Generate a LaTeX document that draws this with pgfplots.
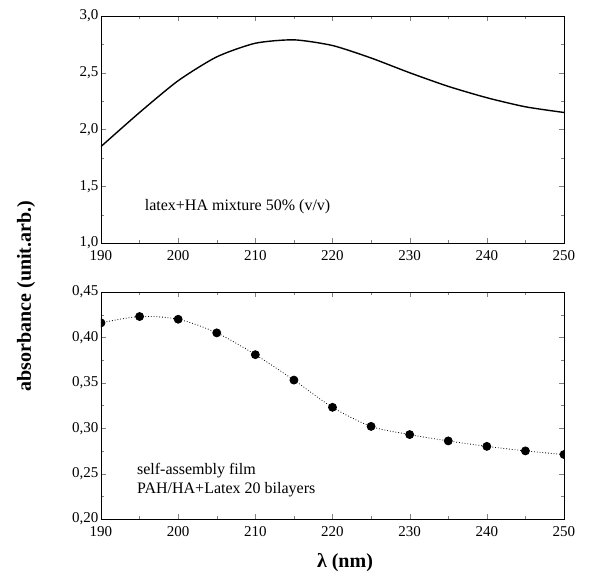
\documentclass[border=0pt]{standalone}
\usepackage{fontspec}
\setmainfont{Liberation Serif}
\usepackage{pgfplots}
\pgfplotsset{compat=1.18}

\pgfplotsset{
  panel/.style={
    scale only axis,
    width=463pt, height=227pt,
    xmin=190, xmax=250,
    xtick={190,200,...,250},
    minor x tick num=1,
    minor y tick num=1,
    major tick length=5pt,
    minor tick length=3pt,
    tick align=inside,
    tick pos=both,
    ticklabel pos=left,
    every axis plot/.append style={black},
    tick label style={font=\fontsize{15}{17}\selectfont},
    /pgf/number format/assume math mode=true,
    /pgf/number format/use comma,
    /pgf/number format/fixed,
    /pgf/number format/fixed zerofill,
    line width=0.8pt,
    axis line style={line width=0.9pt},
    clip marker paths=true,
    xticklabel style={/pgf/number format/1000 sep=, /pgf/number format/precision=0, yshift=-4pt},
    yticklabel style={xshift=1pt},
  }
}

\begin{document}
\begin{tikzpicture}
\useasboundingbox (-101pt,-331pt) rectangle (507pt,243pt);

\begin{axis}[panel,
  at={(0pt,0pt)}, anchor=south west,
  ymin=1, ymax=3,
  ytick={1,1.5,...,3},
  yticklabel style={/pgf/number format/precision=1},
]
\addplot[line width=1.4pt, smooth, tension=0.4] coordinates {
  (190,1.85) (195,2.15) (200,2.43) (205,2.64) (210,2.76) (215,2.79)
  (220,2.74) (225,2.63) (230,2.50) (235,2.38) (240,2.28) (245,2.20) (250,2.15)
};
\node[anchor=west, font=\fontsize{16}{18}\selectfont] at (axis cs:195.2,1.32) {latex+HA mixture 50\% (v/v)};
\end{axis}

\begin{axis}[panel,
  at={(0pt,-276pt)}, anchor=south west,
  ymin=0.2, ymax=0.45,
  ytick={0.2,0.25,...,0.451},
  yticklabel style={/pgf/number format/precision=2},
]
\addplot[line width=0.8pt, dotted, smooth, tension=0.5,
  mark=*, mark size=4pt, mark options={solid, fill=black}] coordinates {
  (190,0.416) (195,0.423) (200,0.420) (205,0.405) (210,0.381) (215,0.353)
  (220,0.323) (225,0.302) (230,0.293) (235,0.286) (240,0.280) (245,0.275) (250,0.271)
};
\node[anchor=west, align=left, font=\fontsize{16}{19}\selectfont] at (axis cs:194.2,0.243) {self-assembly film\\PAH/HA+Latex 20 bilayers};
\end{axis}

\node[rotate=90, font=\bfseries\fontsize{20}{22}\selectfont] at (-75pt,-53pt) {absorbance (unit.arb.)};
\node[font=\bfseries\fontsize{20}{22}\selectfont] at (244pt,-320pt) {λ (nm)};
\end{tikzpicture}
\end{document}
